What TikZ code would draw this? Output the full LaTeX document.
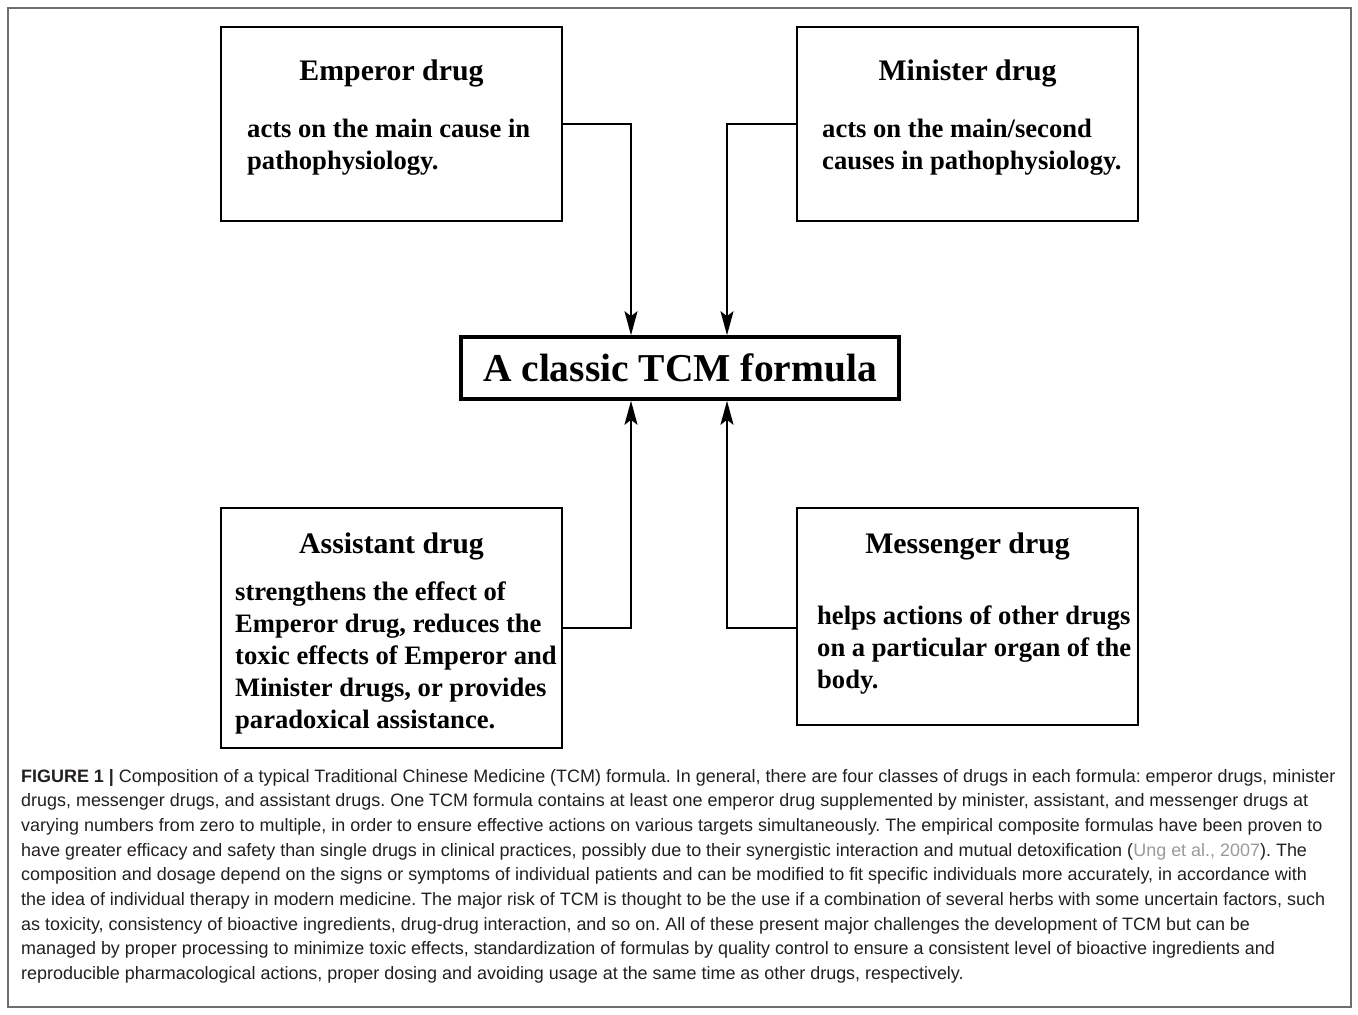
\documentclass[tikz,border=0pt]{standalone}
\usepackage{fontspec}
\setmainfont{Liberation Serif}
\newfontfamily\capfont{Liberation Sans}
\usetikzlibrary{arrows.meta}
\definecolor{captext}{HTML}{231F20}
\definecolor{citegray}{HTML}{9A9A9A}
\definecolor{framegray}{HTML}{6E6E6E}
\tikzset{
  drugbox/.style={draw=black, line width=2pt, minimum width=341pt, inner sep=0pt},
  centerbox/.style={draw=black, line width=3.6pt, minimum width=438pt, minimum height=62pt, inner sep=0pt, font=\fontsize{39.5}{44}\selectfont\bfseries},
  ttl/.style={inner sep=0pt, font=\fontsize{29.8}{34}\selectfont\bfseries},
  bodytxt/.style={inner sep=0pt, anchor=north west, align=left, font=\fontsize{26.6}{32}\selectfont\bfseries},
  arr/.style={line width=2pt, -{Stealth[length=24pt, width=13pt, inset=5pt]}},
  capline/.style={inner sep=0pt, anchor=base west, text=captext, font=\capfont\fontsize{17.95}{22}\selectfont\frenchspacing}
}
\begin{document}
\frenchspacing
\begin{tikzpicture}[x=1pt, y=-1pt]
\useasboundingbox (0,0) rectangle (1358,1015);
\fill[white] (0,0) rectangle (1358,1015);
\draw[framegray, line width=1.3pt] (8,8) rectangle (1351,1007);

% boxes
\node[drugbox, minimum height=194pt] (emp) at (391.5,124) {};
\node[drugbox, minimum height=194pt] (min) at (967.5,124) {};
\node[drugbox, minimum height=240pt] (ass) at (391.5,628) {};
\node[drugbox, minimum height=217pt] (mes) at (967.5,616.5) {};
\node[centerbox] (cen) at (680,368) {A classic TCM formula};

% titles
\node[ttl] (empT) at (391.5,73) {Emperor drug};
\node[ttl] (minT) at (967.5,73) {Minister drug};
\node[ttl] (assT) at (391.5,546) {Assistant drug};
\node[ttl] (mesT) at (967.5,546) {Messenger drug};

% bodies
\node[bodytxt] (empB) at (247,119) {acts on the main cause in\\pathophysiology.};
\node[bodytxt] (minB) at (822,119) {acts on the main/second\\causes in pathophysiology.};
\node[bodytxt] (assB) at (235,582) {strengthens the effect of\\Emperor drug, reduces the\\toxic effects of Emperor and\\Minister drugs, or provides\\paradoxical assistance.};
\node[bodytxt] (mesB) at (817,606) {helps actions of other drugs\\on a particular organ of the\\body.};

% connectors
\coordinate (inL) at ([xshift=-49pt]cen.north);
\coordinate (inR) at ([xshift=47pt]cen.north);
\coordinate (outL) at ([xshift=-49pt]cen.south);
\coordinate (outR) at ([xshift=47pt]cen.south);
\draw[arr] (emp.east) -| (inL);
\draw[arr] (min.west) -| (inR);
\draw[arr] (ass.east) -| (outL);
\draw[arr] (mes.west |- ass.east) -| (outR);

% caption
\node[capline] (c1) at (21,782) {{\bfseries FIGURE 1 |} Composition of a typical Traditional Chinese Medicine (TCM) formula. In general, there are four classes of drugs in each formula: emperor drugs, minister};
\node[capline] (c2) at (21,806.7) {drugs, messenger drugs, and assistant drugs. One TCM formula contains at least one emperor drug supplemented by minister, assistant, and messenger drugs at};
\node[capline] (c3) at (21,831.3) {varying numbers from zero to multiple, in order to ensure effective actions on various targets simultaneously. The empirical composite formulas have been proven to};
\node[capline] (c4) at (21,856) {have greater efficacy and safety than single drugs in clinical practices, possibly due to their synergistic interaction and mutual detoxification ({\color{citegray}Ung et al., 2007}). The};
\node[capline] (c5) at (21,880.7) {composition and dosage depend on the signs or symptoms of individual patients and can be modified to fit specific individuals more accurately, in accordance with};
\node[capline] (c6) at (21,905.3) {the idea of individual therapy in modern medicine. The major risk of TCM is thought to be the use if a combination of several herbs with some uncertain factors, such};
\node[capline] (c7) at (21,930) {as toxicity, consistency of bioactive ingredients, drug-drug interaction, and so on. All of these present major challenges the development of TCM but can be};
\node[capline] (c8) at (21,954.7) {managed by proper processing to minimize toxic effects, standardization of formulas by quality control to ensure a consistent level of bioactive ingredients and};
\node[capline] (c9) at (21,979.3) {reproducible pharmacological actions, proper dosing and avoiding usage at the same time as other drugs, respectively.};
\end{tikzpicture}
\end{document}
